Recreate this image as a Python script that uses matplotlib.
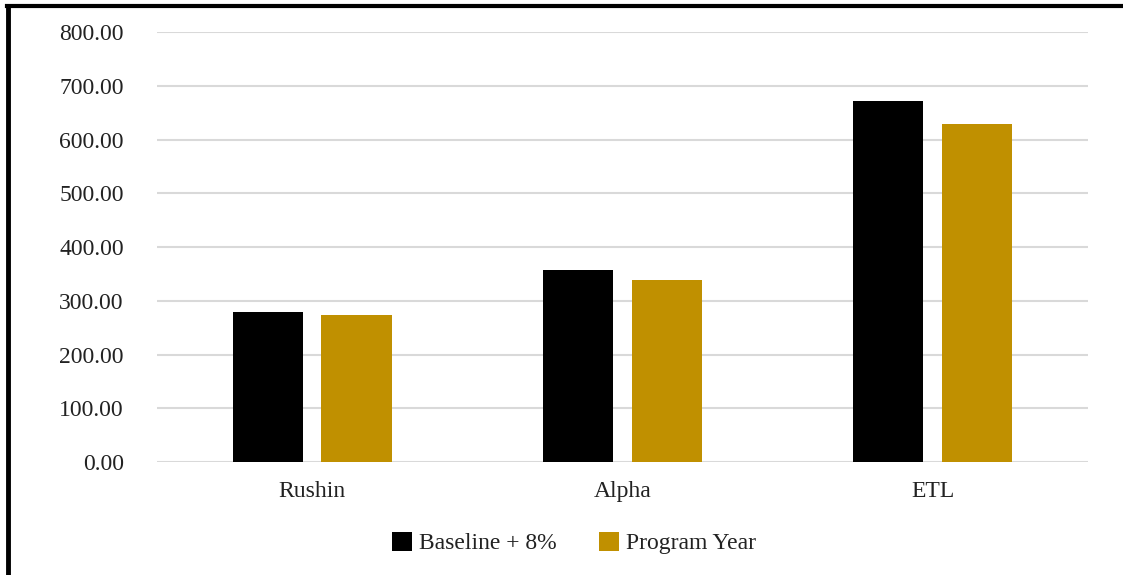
import matplotlib.pyplot as plt
import numpy as np
from matplotlib.lines import Line2D

categories = ["Rushin", "Alpha", "ETL"]
baseline_plus_8 = [279, 358, 672]
program_year = [274, 338, 628]
series_names = ["Baseline + 8%", "Program Year"]
colors = ["#000000", "#C09000"]

plt.rcParams["font.family"] = ["Liberation Serif", "DejaVu Serif"]
fs = 17

fig = plt.figure(figsize=(11.23, 5.75), dpi=100)
ax = fig.add_axes([0.1398, 0.1965, 0.8290, 0.7478])

x = np.arange(len(categories))
w = 0.226
off = 0.143
ax.bar(x - off, baseline_plus_8, w, color=colors[0], label=series_names[0], zorder=3)
ax.bar(x + off, program_year, w, color=colors[1], label=series_names[1], zorder=3)

ax.set_xlim(-0.5, 2.5)
ax.set_ylim(0, 800)
ax.set_yticks(np.arange(0, 801, 100))
ax.set_yticklabels([f"{v:.2f}" for v in np.arange(0, 801, 100)], fontsize=fs, color="#222222")
ax.set_xticks(x)
ax.set_xticklabels(categories, fontsize=fs, color="#222222")
ax.tick_params(axis="y", length=0, pad=24)
ax.tick_params(axis="x", length=0, pad=14)
ax.yaxis.grid(True, color="#d9d9d9", linewidth=1.5, zorder=0)
for s in ax.spines.values():
    s.set_visible(False)

leg = fig.legend(loc="center", bbox_to_anchor=(0.511, 0.0557), ncol=2, frameon=False,
                 fontsize=fs, handlelength=0.85, handleheight=0.85, handletextpad=0.3,
                 columnspacing=1.8, labelcolor="#222222")

# outer frame: left and top edges only
fig.add_artist(Line2D([0.0075, 0.0075], [0.0, 0.99], color="black", lw=3.5, transform=fig.transFigure))
fig.add_artist(Line2D([0.006, 1.0], [0.9895, 0.9895], color="black", lw=3, transform=fig.transFigure))

fig.savefig("out.png", dpi=100)
